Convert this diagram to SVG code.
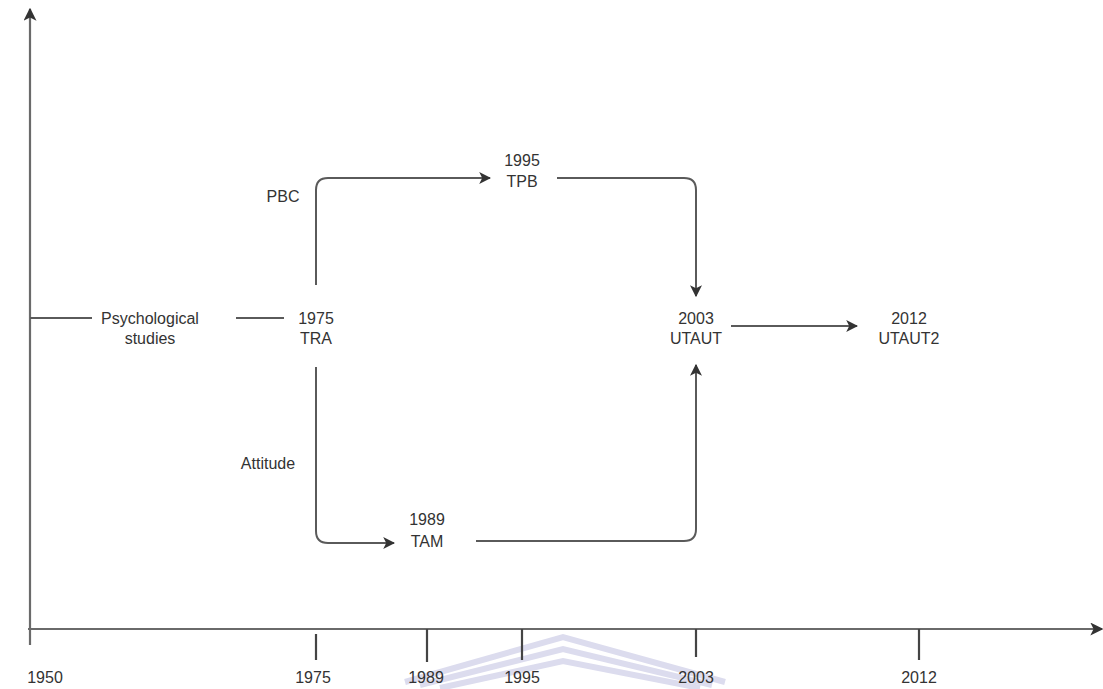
<svg xmlns="http://www.w3.org/2000/svg" width="1103" height="689" viewBox="0 0 1103 689">
<defs>
<style>
.t{font-family:"Liberation Sans",Arial,sans-serif;font-size:16px;fill:#333;text-anchor:middle}
.ln{stroke:#5a5a5a;stroke-width:2;fill:none}
.ax{stroke:#6a6a6a;stroke-width:2.2;fill:none}
.tk{stroke:#444;stroke-width:2.2}
.wm{stroke:#dcdcee;stroke-width:6;fill:none;stroke-linejoin:miter}
</style>
<marker id="ah" viewBox="0 0 10 10" refX="9" refY="5" markerWidth="12" markerHeight="12" markerUnits="userSpaceOnUse" orient="auto">
<path d="M0,0 L10,5 L0,10 L2.5,5 Z" fill="#333"/>
</marker>
<marker id="aa" viewBox="0 0 10 10" refX="9" refY="5" markerWidth="13" markerHeight="13" markerUnits="userSpaceOnUse" orient="auto">
<path d="M0,0 L10,5 L0,10 L2.5,5 Z" fill="#333"/>
</marker>
</defs>
<rect width="1103" height="689" fill="#fff"/>
<g id="watermark">
<polyline class="wm" points="405,682 563,637 725,682"/>
<polyline class="wm" points="420,685 563,649 712,685"/>
<polyline class="wm" points="440,688 563,661 700,688"/>
</g>
<g id="axes">
<line class="ax" x1="30" y1="645" x2="30" y2="9" marker-end="url(#aa)"/>
<line class="ax" x1="28" y1="629" x2="1102" y2="629" marker-end="url(#aa)"/>
<line class="tk" x1="316" y1="634" x2="316" y2="660"/>
<line class="tk" x1="427" y1="629" x2="427" y2="662"/>
<line class="tk" x1="522" y1="629" x2="522" y2="660"/>
<line class="tk" x1="696" y1="629" x2="696" y2="657"/>
<line class="tk" x1="919" y1="629" x2="919" y2="660"/>
<text class="t" x="45" y="683">1950</text>
<text class="t" x="313" y="683">1975</text>
<text class="t" x="426" y="683">1989</text>
<text class="t" x="522" y="683">1995</text>
<text class="t" x="696" y="683">2003</text>
<text class="t" x="919" y="683">2012</text>
</g>
<g id="connectors">
<line class="ln" x1="30" y1="318" x2="92" y2="318"/>
<line class="ln" x1="236" y1="318" x2="284" y2="318"/>
<path class="ln" d="M316,285 V190 Q316,178 328,178 H490" marker-end="url(#ah)"/>
<path class="ln" d="M557,178 H684 Q696,178 696,190 V296" marker-end="url(#ah)"/>
<path class="ln" d="M316,367 V531 Q316,543 328,543 H394" marker-end="url(#ah)"/>
<path class="ln" d="M476,541 H684 Q696,541 696,529 V365" marker-end="url(#ah)"/>
<line class="ln" x1="731" y1="326" x2="857" y2="326" marker-end="url(#ah)"/>
</g>
<g id="psych"><text class="t" x="150" y="324">Psychological</text><text class="t" x="150" y="344">studies</text></g>
<g id="tra"><text class="t" x="316" y="324">1975</text><text class="t" x="316" y="344">TRA</text></g>
<g id="tpb"><text class="t" x="522" y="166">1995</text><text class="t" x="522" y="187">TPB</text></g>
<g id="utaut"><text class="t" x="696" y="324">2003</text><text class="t" x="696" y="344">UTAUT</text></g>
<g id="utaut2"><text class="t" x="909" y="324">2012</text><text class="t" x="909" y="344">UTAUT2</text></g>
<g id="tam"><text class="t" x="427" y="525">1989</text><text class="t" x="427" y="547">TAM</text></g>
<g id="pbc"><text class="t" x="283" y="202">PBC</text></g>
<g id="attitude"><text class="t" x="268" y="469">Attitude</text></g>
</svg>
